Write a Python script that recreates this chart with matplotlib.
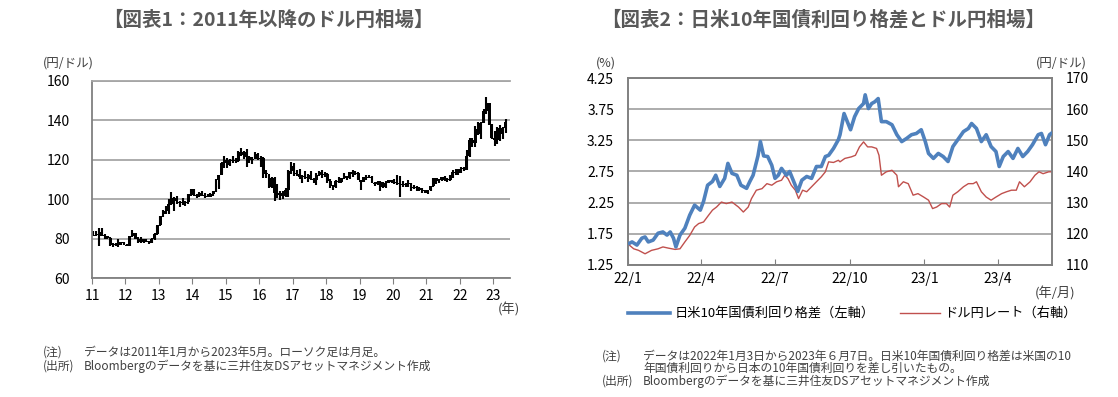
import matplotlib
matplotlib.use("Agg")
import matplotlib.pyplot as plt
import numpy as np
import pandas as pd

plt.rcParams['font.family'] = ['Noto Sans CJK JP', 'DejaVu Sans']

# ---- chart 1: monthly USD/JPY candles, 2011/1 - 2023/5 ----
first_open = 81.1
closes = [
    82.0, 81.8, 83.1, 81.2, 81.5, 80.5, 76.7, 76.6, 77.0, 78.2, 77.6, 76.9,
    76.3, 81.2, 82.8, 80.0, 78.3, 79.8, 78.1, 78.4, 77.9, 79.8, 82.5, 86.7,
    91.7, 92.6, 94.2, 97.4, 100.4, 99.1, 97.9, 98.1, 98.3, 98.4, 102.4, 105.3,
    102.0, 101.8, 103.2, 102.2, 101.8, 101.3, 102.8, 104.1, 109.7, 112.3, 118.6, 119.8,
    117.5, 119.6, 120.1, 119.4, 124.1, 122.4, 123.9, 121.2, 119.9, 120.6, 123.1, 120.2,
    121.1, 112.7, 112.6, 106.3, 110.7, 103.2, 102.1, 103.4, 101.4, 104.8, 114.5, 117.0,
    112.8, 112.7, 111.4, 111.5, 110.8, 112.4, 110.3, 110.0, 112.5, 113.6, 112.5, 112.7,
    109.2, 106.7, 106.3, 109.3, 108.8, 110.8, 111.9, 111.0, 113.7, 112.9, 113.5, 109.7,
    108.9, 111.4, 110.9, 111.4, 108.3, 107.9, 108.8, 106.3, 108.1, 108.0, 109.5, 108.6,
    108.4, 107.9, 107.5, 107.2, 107.8, 107.9, 105.8, 105.9, 105.5, 104.7, 104.3, 103.3,
    104.7, 106.6, 110.7, 109.3, 109.6, 111.1, 109.7, 110.0, 111.3, 114.0, 113.2, 115.1,
    115.1, 115.0, 121.7, 129.9, 128.7, 135.7, 133.3, 138.7, 144.7, 148.7, 138.1, 131.1,
    130.1, 136.2, 132.9, 136.3, 139.3,
]
highs = [
    83.7, 84.0, 85.5, 85.5, 82.2, 81.5, 81.0, 77.9, 77.9, 79.6, 78.2, 78.1,
    77.3, 81.2, 84.2, 83.0, 80.6, 80.6, 79.9, 79.6, 78.9, 80.4, 82.8, 86.6,
    91.3, 94.5, 96.7, 99.9, 103.7, 100.9, 101.5, 99.1, 100.6, 99.0, 102.6, 105.4,
    105.4, 102.8, 103.8, 104.1, 103.0, 102.8, 103.1, 104.3, 110.1, 112.5, 119.0, 121.8,
    120.8, 120.5, 122.0, 120.8, 124.5, 125.9, 124.6, 125.3, 121.7, 121.5, 123.8, 123.7,
    121.7, 121.5, 114.9, 112.0, 111.4, 111.4, 107.5, 104.3, 104.3, 105.5, 114.8, 118.7,
    118.6, 115.0, 115.5, 112.2, 114.4, 112.9, 114.5, 111.0, 113.3, 114.5, 114.7, 113.8,
    113.4, 110.5, 107.3, 109.5, 111.4, 110.9, 113.2, 111.8, 113.7, 114.6, 114.2, 113.7,
    110.0, 111.5, 112.1, 112.4, 111.7, 108.8, 109.0, 109.3, 108.5, 109.3, 109.7, 109.7,
    110.3, 112.2, 111.7, 109.4, 108.1, 109.9, 108.2, 107.1, 106.6, 106.1, 105.7, 104.8,
    104.9, 106.7, 111.0, 111.0, 110.2, 111.1, 111.7, 110.8, 112.1, 114.7, 115.5, 115.2,
    116.4, 116.3, 125.1, 131.3, 131.3, 137.0, 139.4, 139.1, 145.9, 151.9, 148.8, 138.2,
    134.8, 136.9, 137.9, 136.6, 140.9,
]
lows = [
    81.6, 81.5, 76.3, 81.2, 79.6, 79.7, 76.4, 75.9, 76.1, 75.6, 76.6, 76.9,
    76.0, 76.1, 80.6, 79.6, 78.0, 77.7, 77.9, 78.1, 77.1, 77.7, 79.2, 81.7,
    86.5, 90.9, 92.6, 92.6, 97.0, 93.8, 97.6, 95.9, 96.9, 96.6, 97.6, 101.6,
    101.8, 100.8, 101.2, 101.4, 100.8, 101.1, 101.1, 101.5, 103.8, 105.2, 112.6, 115.6,
    115.9, 116.9, 118.3, 118.5, 118.9, 122.1, 120.4, 116.1, 118.6, 118.1, 120.2, 119.9,
    116.5, 111.0, 110.7, 105.9, 105.6, 99.0, 100.7, 99.5, 100.1, 101.0, 101.2, 112.9,
    111.6, 111.6, 110.1, 108.1, 110.2, 108.8, 110.0, 108.3, 107.3, 111.7, 110.8, 111.4,
    108.3, 105.6, 104.6, 105.7, 108.1, 108.1, 110.3, 109.8, 110.4, 111.4, 112.3, 109.6,
    104.9, 108.5, 109.7, 110.8, 108.3, 106.8, 107.2, 104.4, 105.9, 105.7, 108.2, 108.4,
    107.6, 107.0, 101.2, 106.4, 106.0, 106.1, 104.2, 105.1, 104.0, 104.0, 103.2, 102.9,
    102.6, 104.4, 106.4, 107.5, 108.3, 109.2, 109.1, 108.7, 109.1, 110.8, 112.5, 112.5,
    113.5, 114.2, 114.6, 121.3, 126.4, 126.4, 132.5, 130.4, 138.8, 143.5, 137.5, 130.6,
    127.2, 128.1, 129.6, 130.6, 133.5,
]
year_ticks = list(range(2011, 2024))
year_labels = [str(y % 100) for y in year_ticks]

# ---- chart 2: JP-US 10y spread (%) and USD/JPY, days counted from 2022-01-01 ----
spread_day = [
    2, 5, 11, 17, 21, 25, 31, 37, 43, 48, 52, 56, 59, 64, 70, 76, 82, 89, 93, 98,
    104, 108, 113, 119, 123, 128, 134, 139, 146, 150, 154, 160, 163, 167, 172, 177,
    181, 185, 189, 195, 199, 204, 209, 214, 220, 226, 232, 238, 243, 247, 253, 259,
    261, 266, 270, 274, 279, 284, 290, 292, 296, 300, 304, 308, 312, 318, 325, 331,
    337, 343, 349, 355, 361, 366, 370, 376, 382, 388, 394, 400, 406, 413, 419, 423,
    429, 435, 441, 447, 453, 457, 462, 468, 474, 480, 486, 492, 498, 505, 509, 514,
    519, 521,
]
spread = [
    1.60, 1.62, 1.57, 1.68, 1.70, 1.62, 1.65, 1.76, 1.78, 1.73, 1.78, 1.68, 1.54, 1.73, 1.84, 2.05, 2.21, 2.13, 2.27, 2.53,
    2.59, 2.69, 2.51, 2.64, 2.88, 2.72, 2.69, 2.53, 2.48, 2.59, 2.69, 3.00, 3.23, 3.00, 2.99, 2.85,
    2.64, 2.69, 2.80, 2.69, 2.75, 2.59, 2.43, 2.61, 2.67, 2.64, 2.83, 2.83, 2.99, 3.01, 3.12, 3.26,
    3.34, 3.68, 3.55, 3.42, 3.63, 3.76, 3.84, 3.98, 3.76, 3.84, 3.87, 3.92, 3.55, 3.55, 3.50, 3.34,
    3.23, 3.28, 3.34, 3.36, 3.42, 3.23, 3.04, 2.96, 3.04, 2.99, 2.91, 3.15, 3.26, 3.39, 3.44, 3.52,
    3.44, 3.23, 3.34, 3.15, 3.07, 2.83, 2.99, 3.07, 2.96, 3.12, 2.99, 3.07, 3.18, 3.34, 3.36, 3.18,
    3.34, 3.36,
]
fx_day = [
    2, 7, 13, 21, 29, 37, 43, 50, 58, 64, 70, 76, 82, 87, 93, 99, 104, 109, 115, 121,
    128, 136, 142, 148, 152, 158, 165, 171, 177, 183, 189, 193, 197, 201, 206, 210,
    215, 220, 226, 232, 238, 243, 247, 253, 259, 261, 267, 275, 280, 285, 290, 295,
    300, 306, 309, 312, 318, 325, 331, 333, 339, 345, 351, 357, 364, 370, 375, 380,
    386, 392, 396, 400, 406, 413, 419, 425, 429, 435, 441, 447, 453, 460, 466, 472,
    478, 482, 488, 495, 501, 506, 511, 518, 521,
]
usdjpy = [
    116.3, 115.2, 114.7, 113.6, 114.7, 115.2, 115.8, 115.4, 115.0, 115.2, 117.4, 119.5, 122.2, 123.3, 123.8, 125.9, 127.6, 128.6, 130.2, 129.7,
    130.2, 128.6, 127.0, 128.6, 131.3, 134.0, 134.5, 136.1, 135.6, 136.7, 137.2, 138.8, 137.7, 135.6, 134.0, 131.3,
    134.0, 133.5, 135.1, 136.7, 138.3, 139.9, 143.1, 142.9, 143.6, 143.1, 144.2, 144.7, 145.2, 147.9, 149.5, 147.9,
    147.9, 147.4, 145.2, 138.8, 139.9, 140.4, 138.8, 135.1, 136.7, 136.1, 132.4, 132.9, 131.8, 130.8, 128.1, 128.6,
    129.7, 129.7, 128.6, 132.4, 133.5, 135.1, 136.1, 136.1, 136.7, 133.5, 131.8, 130.8, 131.8, 132.9, 133.5, 134.0,
    134.0, 136.7, 135.1, 136.7, 138.8, 139.9, 139.3, 139.9, 139.9,
]
month_ticks = ["2022-01-01", "2022-04-01", "2022-07-01", "2022-10-01", "2023-01-01", "2023-04-01"]
month_labels = ["22/1", "22/4", "22/7", "22/10", "23/1", "23/4"]

W, H = 1118, 397
fig = plt.figure(figsize=(W / 100, H / 100), dpi=100)
txt = '#404040'
grid_c = '#a6a6a6'

def px(l, t, r, b):
    return [l / W, 1 - b / H, (r - l) / W, (b - t) / H]

# ---------- chart 1 ----------
ax1 = fig.add_axes(px(92, 81, 510, 278))
opens = [first_open] + closes[:-1]
xpos = 2011 + (np.arange(len(closes)) + 0.5) / 12
ax1.vlines(xpos, lows, highs, color='black', lw=1.5)
body_lo = np.minimum(opens, closes)
body_h = np.maximum(np.abs(np.array(closes) - np.array(opens)), 0.5)
ax1.bar(xpos, body_h, bottom=body_lo, width=0.085, color='black', lw=0)
ax1.set_xlim(2011, 2023.5)
ax1.set_ylim(60, 160)
ax1.set_yticks(range(60, 161, 20))
ax1.set_xticks(year_ticks)
ax1.set_xticklabels(year_labels)
ax1.yaxis.grid(True, color=grid_c, lw=1.3)
ax1.set_axisbelow(True)
ax1.spines['right'].set_visible(False)
ax1.spines['top'].set_color(grid_c)
ax1.spines['top'].set_linewidth(1.3)
for s in ['left', 'bottom']:
    ax1.spines[s].set_color('#808080')
    ax1.spines[s].set_linewidth(1.3)
ax1.tick_params(axis='y', length=0, labelsize=10, colors='black', pad=16)
ax1.tick_params(axis='x', direction='out', length=4, color='#808080', labelsize=10, pad=4)

fig.text(268 / W, 1 - 20 / H, '【図表1：2011年以降のドル円相場】', ha='center', va='center',
         fontsize=14, fontweight='bold', color='#595959')
fig.text(43 / W, 1 - 63 / H, '(円/ドル)', ha='left', va='center', fontsize=9, color=txt)
fig.text(498 / W, 1 - 309 / H, '(年)', ha='left', va='center', fontsize=9.5, color=txt)
fig.text(43 / W, 1 - 352 / H, '(注)', ha='left', va='center', fontsize=8.5, color=txt)
fig.text(84 / W, 1 - 352 / H, 'データは2011年1月から2023年5月。ローソク足は月足。',
         ha='left', va='center', fontsize=8.5, color=txt)
fig.text(43 / W, 1 - 366 / H, '(出所)', ha='left', va='center', fontsize=8.5, color=txt)
fig.text(84 / W, 1 - 366 / H, 'Bloombergのデータを基に三井住友DSアセットマネジメント作成',
         ha='left', va='center', fontsize=8.5, color=txt)

# ---------- chart 2 ----------
ax2 = fig.add_axes(px(628, 78, 1052, 265))
ax3 = ax2.twinx()
start = pd.Timestamp("2022-01-01")
sd = start + pd.to_timedelta(spread_day, unit='D')
fd = start + pd.to_timedelta(fx_day, unit='D')
ax3.plot(fd, usdjpy, color='#C0504D', lw=1.0, zorder=2)
ax2.plot(sd, spread, color='#4F81BD', lw=2.6, zorder=3)
ax2.set_zorder(ax3.get_zorder() + 1)
ax2.patch.set_visible(False)
ax2.set_xlim(start, pd.Timestamp("2023-06-07"))
ax2.set_ylim(1.25, 4.25)
ax2.set_yticks(np.arange(1.25, 4.26, 0.5))
ax2.set_yticklabels([f'{v:.2f}' for v in np.arange(1.25, 4.26, 0.5)])
ax3.set_ylim(110, 170)
ax3.set_yticks(range(110, 171, 10))
ax2.set_xticks(pd.to_datetime(month_ticks))
ax2.set_xticklabels(month_labels)
ax3.yaxis.grid(True, color=grid_c, lw=1.3)
ax3.set_axisbelow(True)
for a in (ax2, ax3):
    for s in ['left', 'right', 'bottom', 'top']:
        a.spines[s].set_color('#808080')
        a.spines[s].set_linewidth(1.2)
ax2.tick_params(axis='y', length=0, labelsize=10, pad=10)
ax3.tick_params(axis='y', length=0, labelsize=10, pad=10)
ax2.tick_params(axis='x', direction='in', length=4, color='#808080', labelsize=10, pad=5)

fig.text(823 / W, 1 - 20 / H, '【図表2：日米10年国債利回り格差とドル円相場】', ha='center', va='center',
         fontsize=14, fontweight='bold', color='#595959')
fig.text(596 / W, 1 - 63 / H, '(%)', ha='left', va='center', fontsize=9, color=txt)
fig.text(1036 / W, 1 - 63 / H, '(円/ドル)', ha='left', va='center', fontsize=9, color=txt)
fig.text(1035 / W, 1 - 293 / H, '(年/月)', ha='left', va='center', fontsize=9.5, color=txt)

# legend
fig.add_artist(plt.Line2D([628 / W, 670 / W], [1 - 313 / H, 1 - 313 / H], color='#4F81BD', lw=2.6))
fig.text(675 / W, 1 - 313 / H, '日米10年国債利回り格差（左軸）', ha='left', va='center', fontsize=9.5, color='black')
fig.add_artist(plt.Line2D([900 / W, 940 / W], [1 - 313 / H, 1 - 313 / H], color='#C0504D', lw=1.0))
fig.text(944 / W, 1 - 313 / H, 'ドル円レート（右軸）', ha='left', va='center', fontsize=9.5, color='black')

fig.text(602 / W, 1 - 356 / H, '(注)', ha='left', va='center', fontsize=8.5, color=txt)
fig.text(643 / W, 1 - 356 / H, 'データは2022年1月3日から2023年６月7日。日米10年国債利回り格差は米国の10',
         ha='left', va='center', fontsize=8.5, color=txt)
fig.text(643 / W, 1 - 368 / H, '年国債利回りから日本の10年国債利回りを差し引いたもの。',
         ha='left', va='center', fontsize=8.5, color=txt)
fig.text(602 / W, 1 - 381 / H, '(出所)', ha='left', va='center', fontsize=8.5, color=txt)
fig.text(643 / W, 1 - 381 / H, 'Bloombergのデータを基に三井住友DSアセットマネジメント作成',
         ha='left', va='center', fontsize=8.5, color=txt)

fig.savefig('out.png', dpi=100)
